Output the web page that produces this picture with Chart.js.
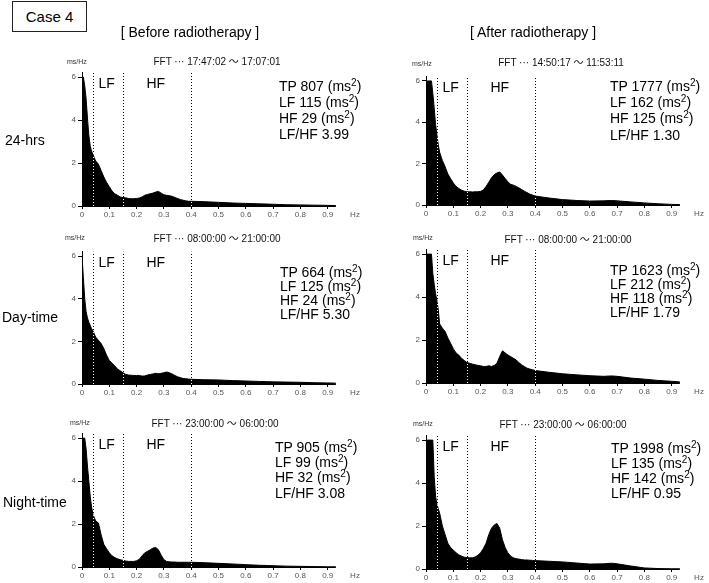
<!DOCTYPE html>
<html>
<head>
<meta charset="utf-8">
<script src="https://cdn.jsdelivr.net/npm/chart.js@4/dist/chart.umd.min.js"></script>
<style>
  html, body { margin: 0; padding: 0; background: #fff; }
  body { width: 709px; height: 583px; position: relative; overflow: hidden;
         font-family: "Liberation Sans", Arial, "Noto Sans CJK JP", sans-serif; }
  .t { position: absolute; white-space: nowrap; color: #000; filter: grayscale(100%); }
  .t sup { font-size: 10px; line-height: 0; vertical-align: 5px; }
  canvas { position: absolute; }
  .casebox { position: absolute; left: 12px; top: 1px; width: 75px; height: 31px; box-sizing: border-box;
             border: 1px solid #222; font-size: 15px; line-height: 29px; text-align: center; }
</style>
</head>
<body>
<div class="casebox">Case 4</div>
<script>
// ---------------- data ----------------
const freqs = [0, 0.005, 0.01, 0.015, 0.02, 0.025, 0.03, 0.035, 0.04, 0.045,
  0.05, 0.06, 0.07, 0.08, 0.09, 0.10, 0.11, 0.12, 0.13, 0.14,
  0.15, 0.16, 0.17, 0.18, 0.19, 0.20, 0.21, 0.22, 0.23, 0.24,
  0.25, 0.26, 0.27, 0.28, 0.29, 0.30, 0.31, 0.32, 0.33, 0.34,
  0.35, 0.36, 0.37, 0.38, 0.39, 0.40,
  0.45, 0.50, 0.55, 0.60, 0.65, 0.68, 0.70, 0.75, 0.80, 0.85, 0.90, 0.93];

const spec24hBefore = [6.0, 6.0, 5.6, 5.0, 4.1, 3.3, 2.8, 2.55, 2.4, 2.25,
  2.1, 1.95, 1.65, 1.35, 1.1, 0.9, 0.7, 0.57, 0.5, 0.42,
  0.39, 0.38, 0.35, 0.34, 0.34, 0.35, 0.37, 0.42, 0.5, 0.54,
  0.57, 0.6, 0.65, 0.68, 0.6, 0.52, 0.5, 0.48, 0.45, 0.4,
  0.35, 0.3, 0.27, 0.24, 0.22, 0.22,
  0.2, 0.17, 0.14, 0.12, 0.1, 0.09, 0.08, 0.06, 0.05, 0.04, 0.03, 0.02];

const spec24hAfter = [6.0, 6.0, 6.0, 6.0, 6.0, 5.4, 4.7, 3.9, 3.4, 2.9,
  2.55, 2.15, 1.85, 1.5, 1.28, 1.07, 0.9, 0.8, 0.72, 0.67,
  0.64, 0.64, 0.63, 0.64, 0.64, 0.66, 0.72, 0.9, 1.1, 1.32,
  1.47, 1.55, 1.6, 1.45, 1.28, 1.12, 1.0, 0.96, 0.9, 0.83,
  0.75, 0.67, 0.6, 0.53, 0.48, 0.43,
  0.34, 0.26, 0.22, 0.19, 0.2, 0.22, 0.2, 0.15, 0.1, 0.06, 0.03, 0.02];

const specDayBefore = [6.0, 5.0, 4.0, 3.4, 3.1, 2.9, 2.75, 2.6, 2.5, 2.35,
  2.2, 2.05, 1.9, 1.66, 1.35, 1.1, 0.98, 0.85, 0.7, 0.62,
  0.53, 0.45, 0.42, 0.41, 0.4, 0.4, 0.4, 0.37, 0.38, 0.42,
  0.45, 0.47, 0.5, 0.48, 0.5, 0.53, 0.56, 0.53, 0.47, 0.4,
  0.34, 0.3, 0.26, 0.25, 0.23, 0.22,
  0.2, 0.19, 0.16, 0.14, 0.12, 0.11, 0.1, 0.09, 0.08, 0.06, 0.05, 0.04];

const specDayAfter = [6.0, 6.0, 6.0, 6.0, 6.0, 5.1, 4.6, 4.15, 3.85, 3.4,
  2.75, 2.55, 2.4, 2.1, 1.85, 1.6, 1.4, 1.3, 1.15, 1.05,
  0.95, 0.92, 0.88, 0.85, 0.82, 0.8, 0.77, 0.77, 0.8, 0.77,
  0.82, 0.92, 1.23, 1.5, 1.4, 1.3, 1.23, 1.15, 1.08, 0.95,
  0.85, 0.77, 0.69, 0.65, 0.62, 0.58,
  0.5, 0.43, 0.38, 0.34, 0.31, 0.33, 0.31, 0.23, 0.18, 0.12, 0.08, 0.05];

const specNightBefore = [6.0, 6.0, 6.0, 5.5, 4.7, 4.0, 3.3, 2.8, 2.45, 2.3,
  2.15, 2.05, 1.5, 1.05, 0.85, 0.66, 0.52, 0.44, 0.38, 0.34,
  0.31, 0.28, 0.26, 0.26, 0.26, 0.29, 0.36, 0.52, 0.66, 0.73,
  0.8, 0.88, 0.91, 0.8, 0.55, 0.34, 0.26, 0.24, 0.23, 0.23,
  0.22, 0.22, 0.22, 0.22, 0.22, 0.22,
  0.2, 0.17, 0.14, 0.11, 0.08, 0.07, 0.06, 0.04, 0.03, 0.02, 0.01, 0.01];

const specNightAfter = [6.0, 6.0, 6.0, 6.0, 6.0, 6.0, 4.3, 3.4, 3.0, 2.8,
  2.6, 2.0, 1.6, 1.2, 1.0, 0.88, 0.76, 0.66, 0.6, 0.55,
  0.53, 0.52, 0.52, 0.56, 0.64, 0.76, 0.95, 1.2, 1.6, 1.9,
  2.05, 2.12, 1.9, 1.36, 1.0, 0.75, 0.6, 0.52, 0.48, 0.46,
  0.44, 0.42, 0.42, 0.41, 0.4, 0.39,
  0.36, 0.33, 0.28, 0.23, 0.24, 0.27, 0.24, 0.14, 0.05, 0.02, 0.01, 0.01];

const tpValues   = [807, 1777, 664, 1623, 905, 1998];
const lfValues   = [115, 162, 125, 212, 99, 135];
const hfValues   = [29, 125, 24, 118, 32, 142];
const lfhfValues = ['3.99', '1.30', '5.30', '1.79', '3.08', '0.95'];
const fftTimes = ['17:47:02 ～ 17:07:01', '14:50:17 ～ 11:53:11',
                  '08:00:00 ～ 21:00:00', '08:00:00 ～ 21:00:00',
                  '23:00:00 ～ 06:00:00', '23:00:00 ～ 06:00:00'];
const rowLabels = ['24-hrs', 'Day-time', 'Night-time'];
const columnTitles = ['[ Before radiotherapy ]', '[ After radiotherapy ]'];
const bandEdges = [0.04, 0.15, 0.40];
const bandLabels = ['LF', 'HF'];
const bandLabelFreqs = [0.09, 0.27];
const yTickValues = [0, 2, 4, 6];
const xTickLabels = ['0', '0.1', '0.2', '0.3', '0.4', '0.5', '0.6', '0.7', '0.8', '0.9', 'Hz'];
const spectra = [spec24hBefore, spec24hAfter, specDayBefore, specDayAfter, specNightBefore, specNightAfter];

// ---------------- layout ----------------
const FONT = '"Liberation Sans", Arial, "Noto Sans CJK JP", sans-serif';
const AXIS_W = 22, PAD_T = 6, PAD_R = 8, XAXIS_H = 16, AREA_W = 273;
const Y_MAX = 6.2, X_AXIS_END = 0.93;
const panels = [
  { left: 82,  top: 71.7,  bottom: 206, sx: 279, sy: 86,  step: 16,   fx: 217, fy: 62,  mx: 67,  my: 62 },
  { left: 426, top: 75.8,  bottom: 205, sx: 610, sy: 86,  step: 16.3, fx: 561, fy: 63,  mx: 412, my: 64 },
  { left: 82,  top: 250.7, bottom: 384, sx: 280, sy: 272, step: 14,   fx: 217, fy: 239, mx: 65,  my: 238 },
  { left: 426, top: 248.7, bottom: 383, sx: 610, sy: 270, step: 14,   fx: 568, fy: 240, mx: 413, my: 238 },
  { left: 82,  top: 433,   bottom: 567, sx: 275, sy: 447, step: 15.3, fx: 215, fy: 424, mx: 70,  my: 423 },
  { left: 426, top: 434.7, bottom: 569, sx: 611, sy: 448, step: 15,   fx: 563, fy: 425, mx: 413, my: 424 }
];
const rowLabelPos = [{ x: 5, y: 140 }, { x: 2, y: 317 }, { x: 3, y: 502 }];
const colTitlePos = [{ x: 190, y: 32 }, { x: 533, y: 32 }];

function addText(html, x, yc, size, center, color) {
  const d = document.createElement('div');
  d.className = 't';
  d.innerHTML = html;
  d.style.fontSize = size + 'px';
  d.style.lineHeight = (size * 1.2) + 'px';
  d.style.left = x + 'px';
  d.style.top = (yc - size * 0.59) + 'px';
  if (center) d.style.transform = 'translateX(-50%)';
  if (color) d.style.color = color;
  document.body.appendChild(d);
  return d;
}

const bandPlugin = {
  id: 'bands',
  beforeDraw(chart) {
    const c = chart.ctx;
    c.save(); c.fillStyle = '#fff'; c.fillRect(0, 0, chart.width, chart.height); c.restore();
  },
  afterDatasetsDraw(chart) {
    const { ctx, scales: { x, y } } = chart;
    ctx.save();
    const y0 = Math.round(y.getPixelForValue(0)) + 0.5;
    ctx.strokeStyle = '#000'; ctx.lineWidth = 1;
    ctx.beginPath();
    ctx.moveTo(x.getPixelForValue(0), y0);
    ctx.lineTo(x.getPixelForValue(X_AXIS_END), y0);
    ctx.stroke();
    ctx.globalCompositeOperation = 'difference';
    ctx.strokeStyle = '#fff';
    ctx.setLineDash([1, 2]);
    bandEdges.forEach(f => {
      const px = Math.round(x.getPixelForValue(f)) + 0.5;
      ctx.beginPath();
      ctx.moveTo(px, y.getPixelForValue(0));
      ctx.lineTo(px, y.getPixelForValue(Y_MAX));
      ctx.stroke();
    });
    ctx.restore();
    ctx.save();
    ctx.fillStyle = '#000';
    ctx.font = '14px ' + FONT;
    ctx.textAlign = 'center';
    ctx.textBaseline = 'middle';
    bandLabels.forEach((lab, i) => {
      ctx.fillText(lab, x.getPixelForValue(bandLabelFreqs[i]), y.getPixelForValue(5.65));
    });
    ctx.restore();
  }
};

panels.forEach((p, i) => {
  const cv = document.createElement('canvas');
  const w = AREA_W + AXIS_W + PAD_R;
  const h = (p.bottom - p.top) + PAD_T + XAXIS_H;
  cv.width = w; cv.height = Math.round(h);
  cv.style.left = (p.left - AXIS_W) + 'px';
  cv.style.top = (p.top - PAD_T) + 'px';
  cv.style.width = w + 'px'; cv.style.height = Math.round(h) + 'px';
  document.body.appendChild(cv);

  new Chart(cv, {
    type: 'line',
    data: {
      datasets: [{
        data: freqs.map((f, k) => ({ x: f, y: spectra[i][k] })),
        fill: 'origin',
        backgroundColor: '#000',
        borderColor: '#000',
        borderWidth: 1,
        pointRadius: 0,
        tension: 0
      }]
    },
    options: {
      animation: false,
      responsive: false,
      maintainAspectRatio: false,
      devicePixelRatio: 1,
      layout: { padding: { top: PAD_T, right: PAD_R, left: 0, bottom: 0 } },
      plugins: { legend: { display: false }, tooltip: { enabled: false } },
      scales: {
        x: {
          type: 'linear', min: 0, max: 1,
          border: { display: false },
          grid: { drawOnChartArea: false, tickLength: 3,
                  color: c => (c.tick && c.tick.value > 0.95) ? 'rgba(0,0,0,0)' : '#000' },
          ticks: { stepSize: 0.1, autoSkip: false, maxRotation: 0, padding: 1,
                   font: { size: 8, family: FONT }, color: '#555',
                   callback: (v, idx) => xTickLabels[Math.round(v * 10)] },
          afterFit: s => { s.height = XAXIS_H; }
        },
        y: {
          min: 0, max: Y_MAX,
          border: { display: true, color: '#000', width: 1 },
          grid: { drawOnChartArea: false, tickLength: 4, color: '#000' },
          afterBuildTicks: s => { s.ticks = yTickValues.map(v => ({ value: v })); },
          ticks: { includeBounds: false, padding: 2,
                   font: { size: 8, family: FONT }, color: '#555',
                   callback: v => String(v) },
          afterFit: s => { s.width = AXIS_W; }
        }
      }
    },
    plugins: [bandPlugin]
  });

  // texts for the panel
  addText('ms/Hz', p.mx, p.my, 7, false, '#333');
  addText('FFT ··· ' + fftTimes[i], p.fx, p.fy, 10, true, '#111');
  const lines = [
    'TP ' + tpValues[i] + ' (ms<sup>2</sup>)',
    'LF ' + lfValues[i] + ' (ms<sup>2</sup>)',
    'HF ' + hfValues[i] + ' (ms<sup>2</sup>)',
    'LF/HF ' + lfhfValues[i]
  ];
  lines.forEach((l, k) => addText(l, p.sx, p.sy + k * p.step, 14, false));
});

rowLabels.forEach((r, i) => addText(r, rowLabelPos[i].x, rowLabelPos[i].y, 14, false));
columnTitles.forEach((t, i) => addText(t, colTitlePos[i].x, colTitlePos[i].y, 14, true));
</script>
</body>
</html>
